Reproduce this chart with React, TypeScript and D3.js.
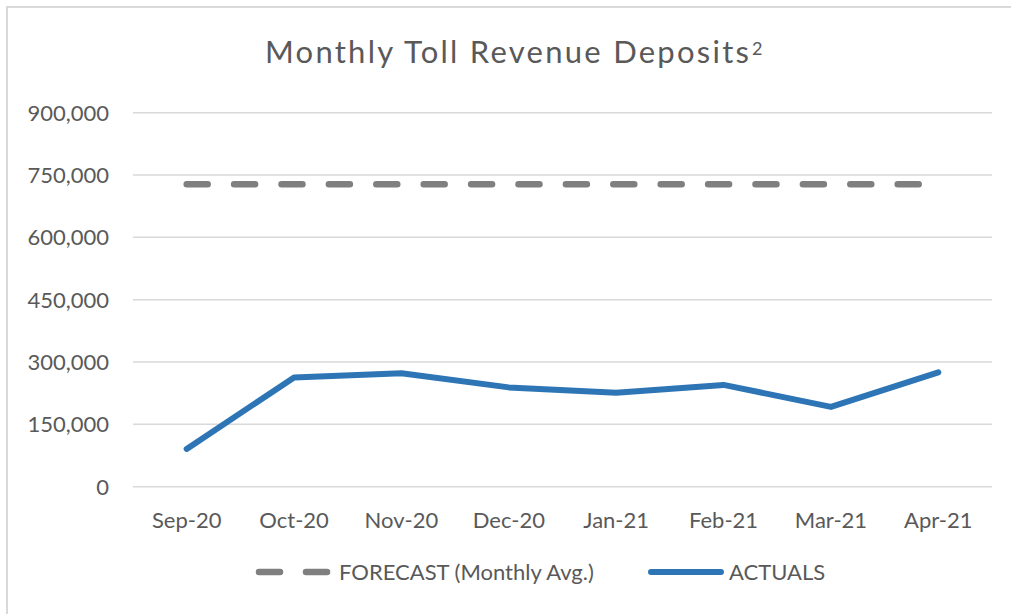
import React from "react";
import * as d3 from "d3";

const categories = ["Sep-20", "Oct-20", "Nov-20", "Dec-20", "Jan-21", "Feb-21", "Mar-21", "Apr-21"];
const forecast = [728000, 728000, 728000, 728000, 728000, 728000, 728000, 728000];
const actuals = [91000, 263000, 273000, 239000, 226000, 245000, 192000, 275000];
const yTicks = [0, 150000, 300000, 450000, 600000, 750000, 900000];
const titleText = "Monthly Toll Revenue Deposits";
const titleSup = "2";
const legendLabels = ["FORECAST (Monthly Avg.)", "ACTUALS"];

const W = 1011;
const H = 614;
const plot = { left: 133, right: 992, top: 112.7, bottom: 486.7 };
const FONT = "Lato, 'Open Sans', sans-serif";
const TEXT = "#595959";
const GRID = "#d9d9d9";
const GRAY = "#7f7f7f";
const BLUE = "#2e75b6";

export default function App() {
  const x = d3.scaleBand<string>().domain(categories).range([plot.left, plot.right]);
  const y = d3.scaleLinear().domain([0, 900000]).range([plot.bottom, plot.top]);
  const cx = (c: string) => (x(c) as number) + x.bandwidth() / 2;

  const line = d3
    .line<number>()
    .x((_, i) => cx(categories[i]))
    .y((d) => y(d));

  const fmt = d3.format(",");

  return (
    <svg
      width={W}
      height={H}
      style={{ position: "absolute", left: 0, top: 0, background: "#fff" }}
      fontFamily={FONT}
    >
      <rect x={0} y={0} width={W} height={H} fill="#fff" />
      {/* chart border */}
      <path d={`M7,${H + 5} L7,7 L${W + 5},7`} fill="none" stroke={GRID} strokeWidth={2} />

      {/* title */}
      <text x={265} y={63} fontSize={31} fontWeight={400} fill={TEXT}>
        <tspan textLength={484} lengthAdjust="spacing">{titleText}</tspan>
      </text>
      <text x={752} y={55} fontSize={18} fontWeight={400} fill={TEXT}>{titleSup}</text>

      {/* gridlines and y ticks */}
      {yTicks.map((t) => (
        <g key={t}>
          <line x1={plot.left} x2={plot.right} y1={y(t)} y2={y(t)} stroke={GRID} strokeWidth={1.5} />
          <text x={109} y={y(t)} dy="0.36em" textAnchor="end" fontSize={22} fill={TEXT}>
            {fmt(t)}
          </text>
        </g>
      ))}

      {/* x labels */}
      {categories.map((c) => (
        <text key={c} x={cx(c)} y={528} textAnchor="middle" fontSize={22} fill={TEXT}>
          {c}
        </text>
      ))}

      {/* forecast */}
      <path
        d={line(forecast) || ""}
        fill="none"
        stroke={GRAY}
        strokeWidth={6.5}
        strokeDasharray="21 26.4"
        strokeLinecap="round"
      />
      {/* actuals */}
      <path
        d={line(actuals) || ""}
        fill="none"
        stroke={BLUE}
        strokeWidth={6}
        strokeLinecap="round"
        strokeLinejoin="round"
      />

      {/* legend */}
      <g>
        <line x1={259} x2={330} y1={572} y2={572} stroke={GRAY} strokeWidth={6.5} strokeDasharray="21 26" strokeLinecap="round" />
        <text x={339} y={580} fontSize={22} fill={TEXT}>{legendLabels[0]}</text>
        <line x1={651} x2={721} y1={572} y2={572} stroke={BLUE} strokeWidth={6} strokeLinecap="round" />
        <text x={729} y={580} fontSize={22} fill={TEXT}>{legendLabels[1]}</text>
      </g>
    </svg>
  );
}
